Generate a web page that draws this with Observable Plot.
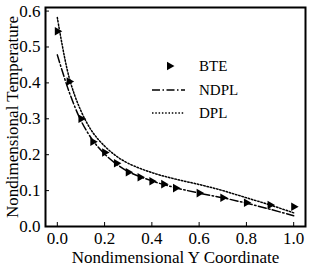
<!DOCTYPE html>
<html>
<head>
<meta charset="utf-8">
<script src="https://cdn.jsdelivr.net/npm/d3@7"></script>
<script src="https://cdn.jsdelivr.net/npm/@observablehq/plot@0.6"></script>
<style>
  html, body { margin: 0; padding: 0; background: #fff; }
  #chart svg { display: block; }
  #chart svg text { font-family: "Liberation Serif", serif !important; }
</style>
</head>
<body>
<div id="chart"></div>
<script>
// BTE data points
const bteX = [0.0, 0.05, 0.10, 0.15, 0.20, 0.25, 0.30, 0.35, 0.40, 0.45, 0.50, 0.60, 0.70, 0.80, 0.90, 1.00];
const bteY = [0.544, 0.404, 0.300, 0.236, 0.206, 0.176, 0.151, 0.137, 0.126, 0.118, 0.107, 0.093, 0.080, 0.066, 0.060, 0.055];
// NDPL curve
const ndplX = [0.0, 0.05, 0.10, 0.15, 0.20, 0.25, 0.30, 0.40, 0.50, 0.60, 0.70, 0.80, 0.90, 1.00];
const ndplY = [0.478, 0.375, 0.295, 0.240, 0.202, 0.174, 0.153, 0.127, 0.108, 0.093, 0.080, 0.065, 0.048, 0.030];
// DPL curve
const dplX = [0.0, 0.05, 0.10, 0.15, 0.20, 0.25, 0.30, 0.40, 0.50, 0.60, 0.70, 0.80, 0.90, 1.00];
const dplY = [0.582, 0.415, 0.322, 0.262, 0.224, 0.196, 0.176, 0.150, 0.132, 0.117, 0.100, 0.080, 0.060, 0.038];
// ticks
const xTicks = [0.0, 0.2, 0.4, 0.6, 0.8, 1.0];
const yTicks = [0.0, 0.1, 0.2, 0.3, 0.4, 0.5, 0.6];
const seriesNames = ["BTE", "NDPL", "DPL"];

const bte = bteX.map((x, i) => ({x, y: bteY[i]}));
const ndpl = ndplX.map((x, i) => ({x, y: ndplY[i]}));
const dpl = dplX.map((x, i) => ({x, y: dplY[i]}));

const FONT = "Liberation Serif, serif";

const chart = Plot.plot({
  width: 311,
  height: 266,
  marginLeft: 45,
  marginRight: 6,
  marginTop: 7,
  marginBottom: 40,
  style: {fontFamily: FONT, fontSize: "17px", color: "#000", background: "#fff"},
  x: {domain: [-0.05, 1.05]},
  y: {domain: [0, 0.61]},
  marks: [
    Plot.axisX({ticks: xTicks, tickSize: 0, tickPadding: 5, tickFormat: d3.format(".1f"), fontSize: 17,
      label: "Nondimensional Y Coordinate", labelAnchor: "center", labelArrow: "none", labelOffset: 36}),
    Plot.axisX({ticks: xTicks, tickSize: -4, tickFormat: () => "", label: null}),
    Plot.axisY({ticks: yTicks, tickSize: 0, tickPadding: 5, tickFormat: d3.format(".1f"), fontSize: 17,
      label: "Nondimensional Temperature", labelAnchor: "center", labelArrow: "none", labelOffset: 40}),
    Plot.axisY({ticks: yTicks, tickSize: -4, tickFormat: () => "", label: null}),
    Plot.line(dpl, {x: "x", y: "y", curve: "catmull-rom", stroke: "#000", strokeWidth: 1.5, strokeDasharray: "1.5,1.8"}),
    Plot.line(ndpl, {x: "x", y: "y", curve: "catmull-rom", stroke: "#000", strokeWidth: 1.5, strokeDasharray: "8,2.5,1.5,2.5"}),
    Plot.dot(bte, {x: "x", y: "y", symbol: "triangle", r: 3.2, rotate: 90, fill: "#000", stroke: "none"}),
    Plot.frame({stroke: "#000", strokeWidth: 2})
  ]
});

document.getElementById("chart").appendChild(chart);

const svg = d3.select(chart);
svg.selectAll("text").attr("font-size", 17).style("font-size", "17px");

// Legend inside the plot area
const lg = svg.append("g").attr("fill", "#000").attr("text-anchor", "start");
const rows = [66, 90, 113];
const x0 = 152, x1 = 185, tx = 199;
lg.append("path")
  .attr("d", d3.symbol(d3.symbolTriangle, 3.2 * 3.2 * Math.PI)())
  .attr("transform", `translate(${(x0 + x1) / 2 + 1},${rows[0]}) rotate(90)`)
  .attr("fill", "#000");
lg.append("line").attr("x1", x0).attr("x2", x1).attr("y1", rows[1]).attr("y2", rows[1])
  .attr("stroke", "#000").attr("stroke-width", 1.5).attr("stroke-dasharray", "8,2.5,1.5,2.5");
lg.append("line").attr("x1", x0).attr("x2", x1).attr("y1", rows[2]).attr("y2", rows[2])
  .attr("stroke", "#000").attr("stroke-width", 1.5).attr("stroke-dasharray", "1.5,1.8");
seriesNames.forEach((name, i) => {
  lg.append("text").attr("x", tx).attr("y", rows[i]).attr("dy", "0.35em")
    .attr("text-anchor", "start").style("font-size", "15px").text(name);
});
</script>
</body>
</html>
